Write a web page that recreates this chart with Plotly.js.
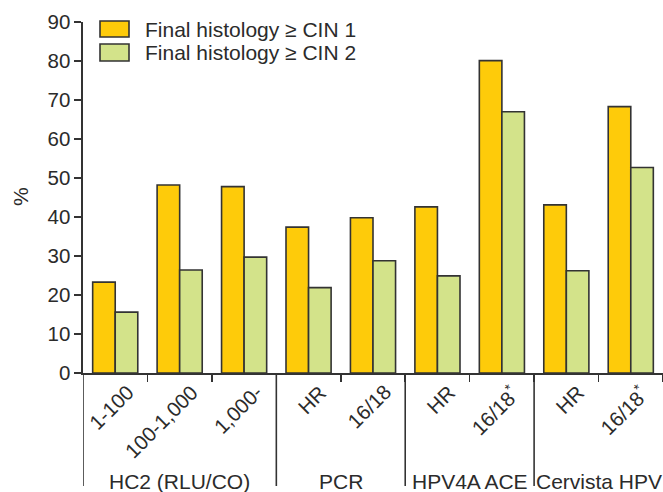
<!DOCTYPE html>
<html><head><meta charset="utf-8">
<script src="https://cdn.plot.ly/plotly-3.0.1.min.js"></script>
<style>html,body{margin:0;padding:0;background:#fff}#chart{width:663px;height:492px}</style>
</head><body><div id="chart"></div>
<script>
const tickLabels = ["1-100","100-1,000","1,000-","HR","16/18","HR","16/18*","HR","16/18*"];
const groupNames = ["HC2 (RLU/CO)","PCR","HPV4A ACE","Cervista HPV"];
const groupSizes = [3,2,2,2];
const seriesNames = ["Final histology \u2265 CIN 1","Final histology \u2265 CIN 2"];
const cin1 = [23.3,48.2,47.8,37.4,39.8,42.6,80.1,43.1,68.3];
const cin2 = [15.6,26.4,29.7,21.9,28.8,24.9,67.0,26.2,52.7];
const colors = ["#FECB0A","#D3E38A"];

const FONT = "Liberation Sans, Arial, sans-serif";
const INK = "#2b2b2b";
const xs = tickLabels.map((_,i)=>i);

const traces = [cin1,cin2].map((vals,k)=>({
  type:"bar", x:xs, y:vals, name:seriesNames[k],
  marker:{color:colors[k], line:{color:"#333", width:1.6}},
  showlegend:false, hoverinfo:"y"
}));

const W = 580, H = 351, PT = 22, PL = 83; // plot area px
const px = p => (p-PL)/W;
const py = p => (PT+H-p)/H;

const shapes = [];
const annotations = [];
let b = -0.5;
const divs = [-0.5];
groupSizes.forEach((n,gi)=>{
  const c = b + n/2;
  annotations.push({xref:"x", yref:"paper", x:c, y:py(481), text:groupNames[gi],
    showarrow:false, xanchor:"center", yanchor:"middle", font:{family:FONT,size:21,color:INK}});
  b += n;
  if (gi < groupSizes.length-1) divs.push(b);
});
divs.forEach(d=>shapes.push({type:"line", xref:"x", yref:"paper", x0:d, x1:d, y0:0, y1:py(486),
  line:{color:"#333", width:1.6}}));
tickLabels.forEach((t,i)=>{
  const txt = t.replace(/\*$/, "<sup>*</sup>");
  annotations.push({xref:"x", yref:"y", x:i, y:0, text:txt, textangle:-45, showarrow:false,
    xanchor:"right", yanchor:"top", xshift:25, yshift:-5, font:{family:FONT,size:20.5,color:INK}});
});
const legY = [[21,37,29],[44,61,53]];
seriesNames.forEach((nm,k)=>{
  shapes.push({type:"rect", xref:"paper", yref:"paper", x0:px(100), x1:px(129), y0:py(legY[k][0]), y1:py(legY[k][1]),
    fillcolor:colors[k], line:{color:"#333", width:1.6}});
  annotations.push({xref:"paper", yref:"paper", x:px(143), y:py(legY[k][2]), text:nm, showarrow:false,
    xanchor:"left", yanchor:"middle", font:{family:FONT,size:21,color:INK}});
});
annotations.push({xref:"paper", yref:"paper", x:px(20), y:py(197), text:"%", textangle:-90, showarrow:false,
  xanchor:"center", yanchor:"middle", font:{family:FONT,size:21,color:INK}});

const layout = {
  width:663, height:492,
  margin:{l:PL, r:0, t:PT, b:492-PT-H, pad:0},
  paper_bgcolor:"#fff", plot_bgcolor:"#fff",
  bargap:0.3, bargroupgap:0, barmode:"group",
  showlegend:false,
  xaxis:{range:[-0.5,8.5], showgrid:false, zeroline:false, showline:true, linecolor:"#333", linewidth:1.6,
    tickmode:"array", tickvals:[0.5,1.5,2.5,3.5,4.5,5.5,6.5,7.5,8.5], showticklabels:false,
    ticks:"outside", ticklen:7, tickwidth:1.6, tickcolor:"#333", fixedrange:true},
  yaxis:{range:[0,90], dtick:10, tick0:0, showgrid:false, zeroline:false, showline:true, linecolor:"#333", linewidth:1.6,
    ticks:"outside", ticklen:7, tickwidth:1.6, tickcolor:"#333",
    tickfont:{family:FONT,size:20.5,color:INK}, fixedrange:true},
  shapes:shapes, annotations:annotations,
  font:{family:FONT, color:INK}
};
Plotly.newPlot("chart", traces, layout, {displayModeBar:false, staticPlot:true});
</script></body></html>
